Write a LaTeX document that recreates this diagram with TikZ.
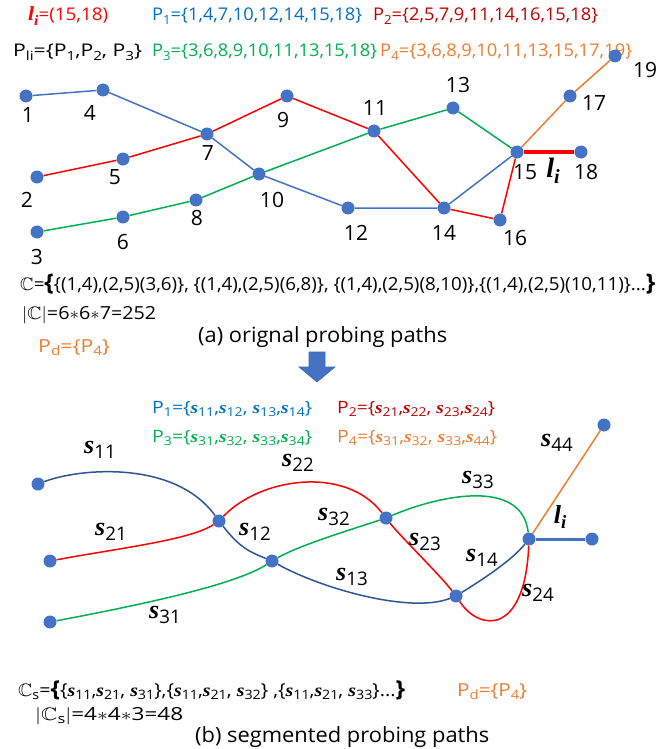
\documentclass[tikz,border=0pt]{standalone}
\usepackage{fontspec}
\usepackage{amssymb}
\usepackage{graphicx}
\setmainfont{Open Sans}
\newfontfamily\tnr{Liberation Serif}
\definecolor{nblue}{HTML}{4472C4}
\definecolor{tblue}{HTML}{0070C0}
\definecolor{dred}{HTML}{C00000}
\definecolor{lred}{HTML}{FF0000}
\definecolor{lgreen}{HTML}{00B050}
\definecolor{lorange}{HTML}{ED7D31}
\definecolor{cblue}{HTML}{2F5597}
\definecolor{ablue}{HTML}{3F6AB5}
\newcommand{\subs}[1]{\raisebox{-0.22em}{\scalebox{0.72}{#1}}}
\newcommand{\fitw}[2]{\resizebox{#1}{\height}{#2}}
\newcommand{\sit}{{\tnr\bfseries\itshape s}}
\newcommand{\sv}[1]{\sit\subs{#1}}
\newcommand{\lisym}{{\tnr\bfseries\itshape l}\subs{\tnr\bfseries\itshape i}}
\newcommand{\fs}[1]{\fontsize{#1}{#1}\selectfont}
\begin{document}
\begin{tikzpicture}[x=1pt,y=-1pt,
  dot/.style={circle,fill=nblue,inner sep=0pt,minimum size=13pt},
  num/.style={inner sep=0pt,font=\fs{21}},
  txt/.style={inner sep=0pt,anchor=base west,font=\fs{17.5}},
  ptxt/.style={inner sep=0pt,anchor=base west,font=\fs{17}},
  slab/.style={inner sep=0pt,font=\fs{26}},
  lnb/.style={nblue,line width=1.5pt},
  lnr/.style={lred,line width=1.5pt},
  lng/.style={lgreen,line width=1.5pt},
  lno/.style={lorange,line width=1.5pt},
  cvb/.style={cblue,line width=1.5pt},
]
\useasboundingbox (0,0) rectangle (661,749);
\fill[white] (0,0) rectangle (661,749);

% ---------- top texts ----------
\node[txt,text=lred] (tli) at (28,21) {\fitw{80pt}{{\fs{20}\lisym}=(15,18)}};
\node[txt,text=tblue] (tp1) at (152,21) {\fitw{210pt}{P\subs{1}=\{1,4,7,10,12,14,15,18\}}};
\node[txt,text=dred] (tp2) at (373,21) {\fitw{225pt}{P\subs{2}=\{2,5,7,9,11,14,16,15,18\}}};
\node[txt] (tpli) at (13,57) {\fitw{129pt}{P\subs{li}=\{P\subs{1},P\subs{2}, P\subs{3}\}}};
\node[txt,text=lgreen] (tp3) at (152,57) {\fitw{225pt}{P\subs{3}=\{3,6,8,9,10,11,13,15,18\}}};
\node[txt,text=lorange] (tp4) at (380,57) {\fitw{252pt}{P\subs{4}=\{3,6,8,9,10,11,13,15,17,19\}}};

% ---------- (a) nodes ----------
\node[dot] (n1) at (26,96) {};
\node[dot] (n4) at (103,90) {};
\node[dot] (n7) at (207,134) {};
\node[dot] (n9) at (287,96) {};
\node[dot] (n5) at (123,159) {};
\node[dot] (n2) at (37,177) {};
\node[dot] (n10) at (259,174) {};
\node[dot] (n8) at (196,200) {};
\node[dot] (n6) at (123,217) {};
\node[dot] (n3) at (37,232) {};
\node[dot] (n11) at (374,131) {};
\node[dot] (n13) at (453,108) {};
\node[dot] (n15) at (517,152) {};
\node[dot] (n18) at (581,152) {};
\node[dot] (n17) at (570,96) {};
\node[dot] (n12) at (348,208) {};
\node[dot] (n14) at (444,208) {};
\node[dot] (n16) at (500,220) {};
\node[dot] (n19) at (615,56) {};

% edges (a)
\draw[lnb] (n1) -- (n4) -- (n7) -- (n10) -- (n12) -- (n14) -- (n15);
\draw[lnr] (n2) -- (n5) -- (n7) -- (n9) -- (n11) -- (n14) -- (n16) -- (n15);
\draw[lng] (n3) -- (n6) -- (n8) -- (n10) -- (n11) -- (n13) -- (n15);
\draw[lno] (n15) -- (n17) -- (n19);
\draw[lred,line width=4pt] (n15) -- (n18);

% labels (a)
\node[num] (l1) at (28,115) {1};
\node[num] (l4) at (90,113) {4};
\node[num] (l7) at (208,153) {7};
\node[num] (l9) at (283,120) {9};
\node[num] (l5) at (115,177) {5};
\node[num] (l2) at (27,200) {2};
\node[num] (l10) at (272,200) {10};
\node[num] (l8) at (197,218) {8};
\node[num] (l6) at (123,242) {6};
\node[num] (l3) at (37,257) {3};
\node[num] (l13) at (458,85) {13};
\node[num] (l11) at (375,108) {11};
\node[num] (l17) at (594,103) {17};
\node[num] (l15) at (525,172) {15};
\node[num] (l18) at (586,172) {18};
\node[num] (l12) at (356,233) {12};
\node[num] (l14) at (444,233) {14};
\node[num] (l16) at (515,238) {16};
\node[num] (l19) at (645,70) {19};
\node[inner sep=0pt,font=\fs{28}] (lli) at (553,171) {\lisym};

% ---------- (a) formulas ----------
\node[txt,font=\fs{18}] (fc) at (20,290) {\fitw{635pt}{$\mathbb{C}$={\fs{23}\bfseries\{}\{(1,4),(2,5)(3,6)\}, \{(1,4),(2,5)(6,8)\}, \{(1,4),(2,5)(8,10)\},\{(1,4),(2,5)(10,11)\}...{\fs{23}\bfseries\}}}};
\node[txt,font=\fs{18}] (fcn) at (22,319) {\fitw{134pt}{$|\mathbb{C}|$=6$\ast$6$\ast$7=252}};
\node[txt,font=\fs{18},text=lorange] (fpd) at (38,352) {\fitw{72pt}{P\subs{d}=\{P\subs{4}\}}};
\node[txt,font=\fs{21}] (capa) at (198,342) {\fitw{249pt}{(a) orignal probing paths}};

% arrow
\filldraw[fill=nblue,draw=ablue,line width=0.6pt] (309,352) -- (325,352) -- (325,367) -- (335,367) -- (317,382) -- (299,367) -- (309,367) -- cycle;

% ---------- (b) texts ----------
\node[ptxt,text=tblue] (bp1) at (152,413) {\fitw{160pt}{P\subs{1}=\{\sv{11},\sv{12}, \sv{13},\sv{14}\}}};
\node[ptxt,text=dred] (bp2) at (337,413) {\fitw{158pt}{P\subs{2}=\{\sv{21},\sv{22}, \sv{23},\sv{24}\}}};
\node[ptxt,text=lgreen] (bp3) at (152,442) {\fitw{160pt}{P\subs{3}=\{\sv{31},\sv{32}, \sv{33},\sv{34}\}}};
\node[ptxt,text=lorange] (bp4) at (337,442) {\fitw{160pt}{P\subs{4}=\{\sv{31},\sv{32}, \sv{33},\sv{44}\}}};

% ---------- (b) nodes ----------
\node[dot] (b1) at (38,484) {};
\node[dot] (b2) at (50,561) {};
\node[dot] (b3) at (50,622) {};
\node[dot] (bA) at (219,521) {};
\node[dot] (bB) at (272,561) {};
\node[dot] (bC) at (386,518) {};
\node[dot] (bD) at (456,596) {};
\node[dot] (bE) at (529,539) {};
\node[dot] (bF) at (592,539) {};
\node[dot] (bG) at (604,425) {};

% curves (b)
\draw[cvb] (b1) .. controls (80,468) and (175,460) .. (bA)
  .. controls (240,548) and (250,552) .. (bB)
  .. controls (320,588) and (410,614) .. (bD)
  .. controls (485,578) and (512,560) .. (bE);
\draw[lnr] (b2) .. controls (120,548) and (190,540) .. (bA)
  .. controls (260,478) and (345,465) .. (bC)
  .. controls (401,537) and (440,575) .. (bD)
  .. controls (480,632) and (525,635) .. (bE);
\draw[lng] (b3) .. controls (140,605) and (235,585) .. (bB)
  .. controls (300,545) and (350,530) .. (bC)
  .. controls (440,495) and (522,478) .. (bE);
\draw[lno] (bE) -- (bG);
\draw[nblue,line width=3pt] (bE) -- (bF);

% labels (b)
\node[slab] (s11) at (100,450) {\sv{11}};
\node[slab] (s22) at (298,463) {\sv{22}};
\node[slab] (s44) at (557,443) {\sv{44}};
\node[slab] (s33) at (478,480) {\sv{33}};
\node[slab] (s21) at (111,532) {\sv{21}};
\node[slab] (s12) at (255,532) {\sv{12}};
\node[slab] (s32) at (334,517) {\sv{32}};
\node[slab] (s23) at (425,542) {\sv{23}};
\node[slab] (s14) at (482,558) {\sv{14}};
\node[slab] (s13) at (352,577) {\sv{13}};
\node[slab] (s24) at (538,593) {\sv{24}};
\node[slab] (s31) at (165,615) {\sv{31}};
\node[inner sep=0pt,font=\fs{26}] (bli) at (560,517) {\lisym};

% ---------- (b) formulas ----------
\node[txt,font=\fs{18}] (fcs) at (18,696) {\fitw{387pt}{$\mathbb{C}$\subs{s}={\fs{22}\bfseries\{}\{\sv{11},\sv{21}, \sv{31}\},\{\sv{11},\sv{21}, \sv{32}\} ,\{\sv{11},\sv{21}, \sv{33}\}...{\fs{22}\bfseries\}}}};
\node[txt,font=\fs{18}] (fcsn) at (35,720) {\fitw{148pt}{$|\mathbb{C}$\subs{s}$|$=4$\ast$4$\ast$3=48}};
\node[txt,font=\fs{18},text=lorange] (fpdb) at (457,696) {\fitw{70pt}{P\subs{d}=\{P\subs{4}\}}};
\node[txt,font=\fs{21}] (capb) at (195,742) {\fitw{294pt}{(b) segmented probing paths}};
\end{tikzpicture}
\end{document}
